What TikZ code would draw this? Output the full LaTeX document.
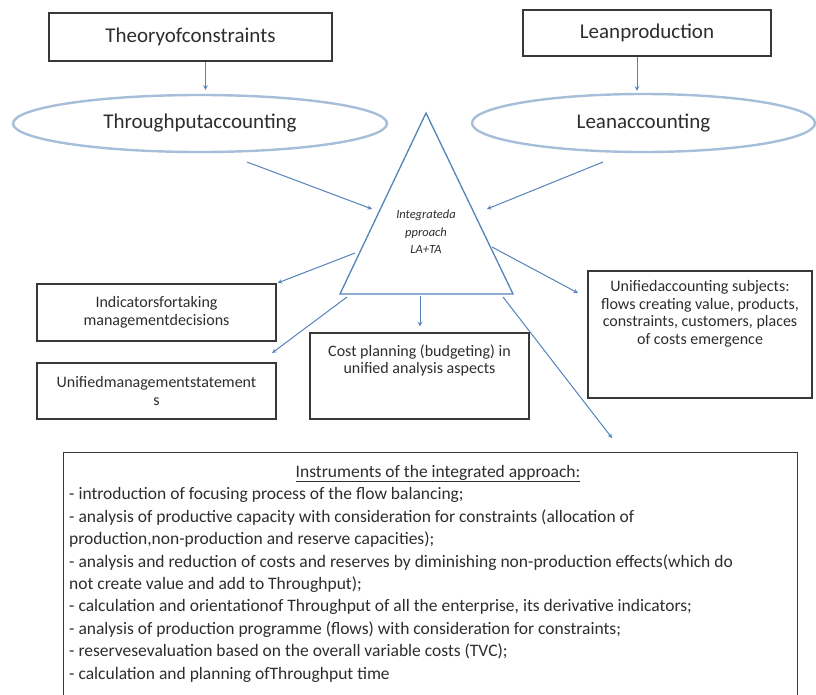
\documentclass[tikz,border=0pt]{standalone}
\usepackage{fontspec}
\setmainfont{Carlito}
\usetikzlibrary{shapes.geometric,positioning}

\definecolor{linkblue}{RGB}{84,130,186}
\definecolor{ovalblue}{RGB}{166,190,218}
\definecolor{inkgray}{RGB}{45,45,45}

\tikzset{
  box/.style={draw=black!78, line width=1.4pt, inner sep=0pt, align=center, text=inkgray},
  oval/.style={ellipse, draw=ovalblue, line width=2.4pt, inner sep=0pt, text=inkgray},
  link/.style={->, draw=linkblue, line width=1pt},
  bigfont/.style={font=\fontsize{21}{25}\selectfont},
  midfont/.style={font=\fontsize{16}{17.5}\selectfont},
  listfont/.style={font=\fontsize{17.5}{22.4}\selectfont},
}

\begin{document}
\begin{tikzpicture}[x=1pt, y=-1pt, >=stealth]
\useasboundingbox (0,0) rectangle (816,694);

% two sources and their accounting
\node[box, bigfont, minimum width=283pt, minimum height=48pt] (toc) at (190.5,37) {Theoryofconstraints};
\node[box, bigfont, minimum width=248pt, minimum height=46pt] (lean) at (647,33) {Leanproduction};
\node[oval, bigfont, minimum width=374pt, minimum height=57pt] (ta) at (200,123.5) {Throughputaccounting};
\node[oval, bigfont, minimum width=343pt, minimum height=58pt] (la) at (643.5,123) {Leanaccounting};

\draw[link, shorten >=4pt] ([xshift=15pt]toc.south) -- ([xshift=15pt]toc.south |- ta.north);
\draw[link, shorten >=2pt] ([xshift=-10pt]lean.south) -- ([xshift=-10pt]lean.south |- la.north);

% triangle of the integrated approach
\coordinate (apex) at (426,113);
\coordinate (bl) at (340,294);
\coordinate (br) at (513,294);
\draw[draw=linkblue, line width=1.3pt] (apex) -- (bl) -- (br) -- cycle;
\node[align=center, text=inkgray, font=\fontsize{12.5}{17.5}\selectfont\itshape] (core) at (426,232) {Integrateda\\pproach\\LA+TA};

\coordinate (ta out) at (247,162);
\coordinate (la out) at (603,162);
\coordinate (tri in l) at (372,209);
\coordinate (tri in r) at (487,209);
\draw[link] (ta out) -- (tri in l);
\draw[link] (la out) -- (tri in r);

% results
\node[box, midfont, minimum width=239pt, minimum height=57pt] (ind) at (156.5,312.5) {Indicatorsfortaking\\managementdecisions};
\node[box, midfont, minimum width=239pt, minimum height=56pt] (ums) at (156.5,391) {Unifiedmanagementstatement\\s};
\node[box, minimum width=219pt, minimum height=86pt] (cost) at (419.5,376) {};
\node[midfont, align=center, text=inkgray, inner sep=0pt, below=12pt of cost.north] (costtxt) {Cost planning (budgeting) in\\unified analysis aspects};
\node[box, minimum width=224pt, minimum height=127pt] (acc) at (700,334.5) {};
\node[midfont, align=center, text=inkgray, inner sep=0pt, below=10pt of acc.north] (acctxt) {Unifiedaccounting subjects:\\flows creating value, products,\\constraints, customers, places\\of costs emergence};

\coordinate (tri o1) at (355,253);
\coordinate (tri o2) at (347,297);
\coordinate (tri o3) at (420,296);
\coordinate (tri o4) at (492,247);
\coordinate (tri o5) at (503,297);
\coordinate (ums in) at (272,353);
\coordinate (acc in) at (578,293);
\coordinate (instr in) at (612,438);
\draw[link, shorten >=1pt] (tri o1) -- (ind.north east);
\draw[link] (tri o2) -- (ums in);
\draw[link, shorten >=6pt] (tri o3) -- (tri o3 |- cost.north);
\draw[link] (tri o4) -- (acc in);
\draw[link] (tri o5) -- (instr in);

% instruments
\node[box, minimum width=734pt, minimum height=246pt, anchor=north west] (instr) at (63,452) {};
\node[text=inkgray, listfont, anchor=base, inner sep=0pt] (instrtitle) at (438,477) {\underline{Instruments of the integrated approach:}};
\node[text=inkgray, listfont, align=left, anchor=north west, inner sep=0pt] (instrlist) at (69,487.5) {%
- introduction of focusing process of the flow balancing;\\
- analysis of productive capacity with consideration for constraints (allocation of\\
production,non-production and reserve capacities);\\
- analysis and reduction of costs and reserves by diminishing non-production effects(which do\\
not create value and add to Throughput);\\
- calculation and orientationof Throughput of all the enterprise, its derivative indicators;\\
- analysis of production programme (flows) with consideration for constraints;\\
- reservesevaluation based on the overall variable costs (TVC);\\
- calculation and planning ofThroughput time};
\end{tikzpicture}
\end{document}
